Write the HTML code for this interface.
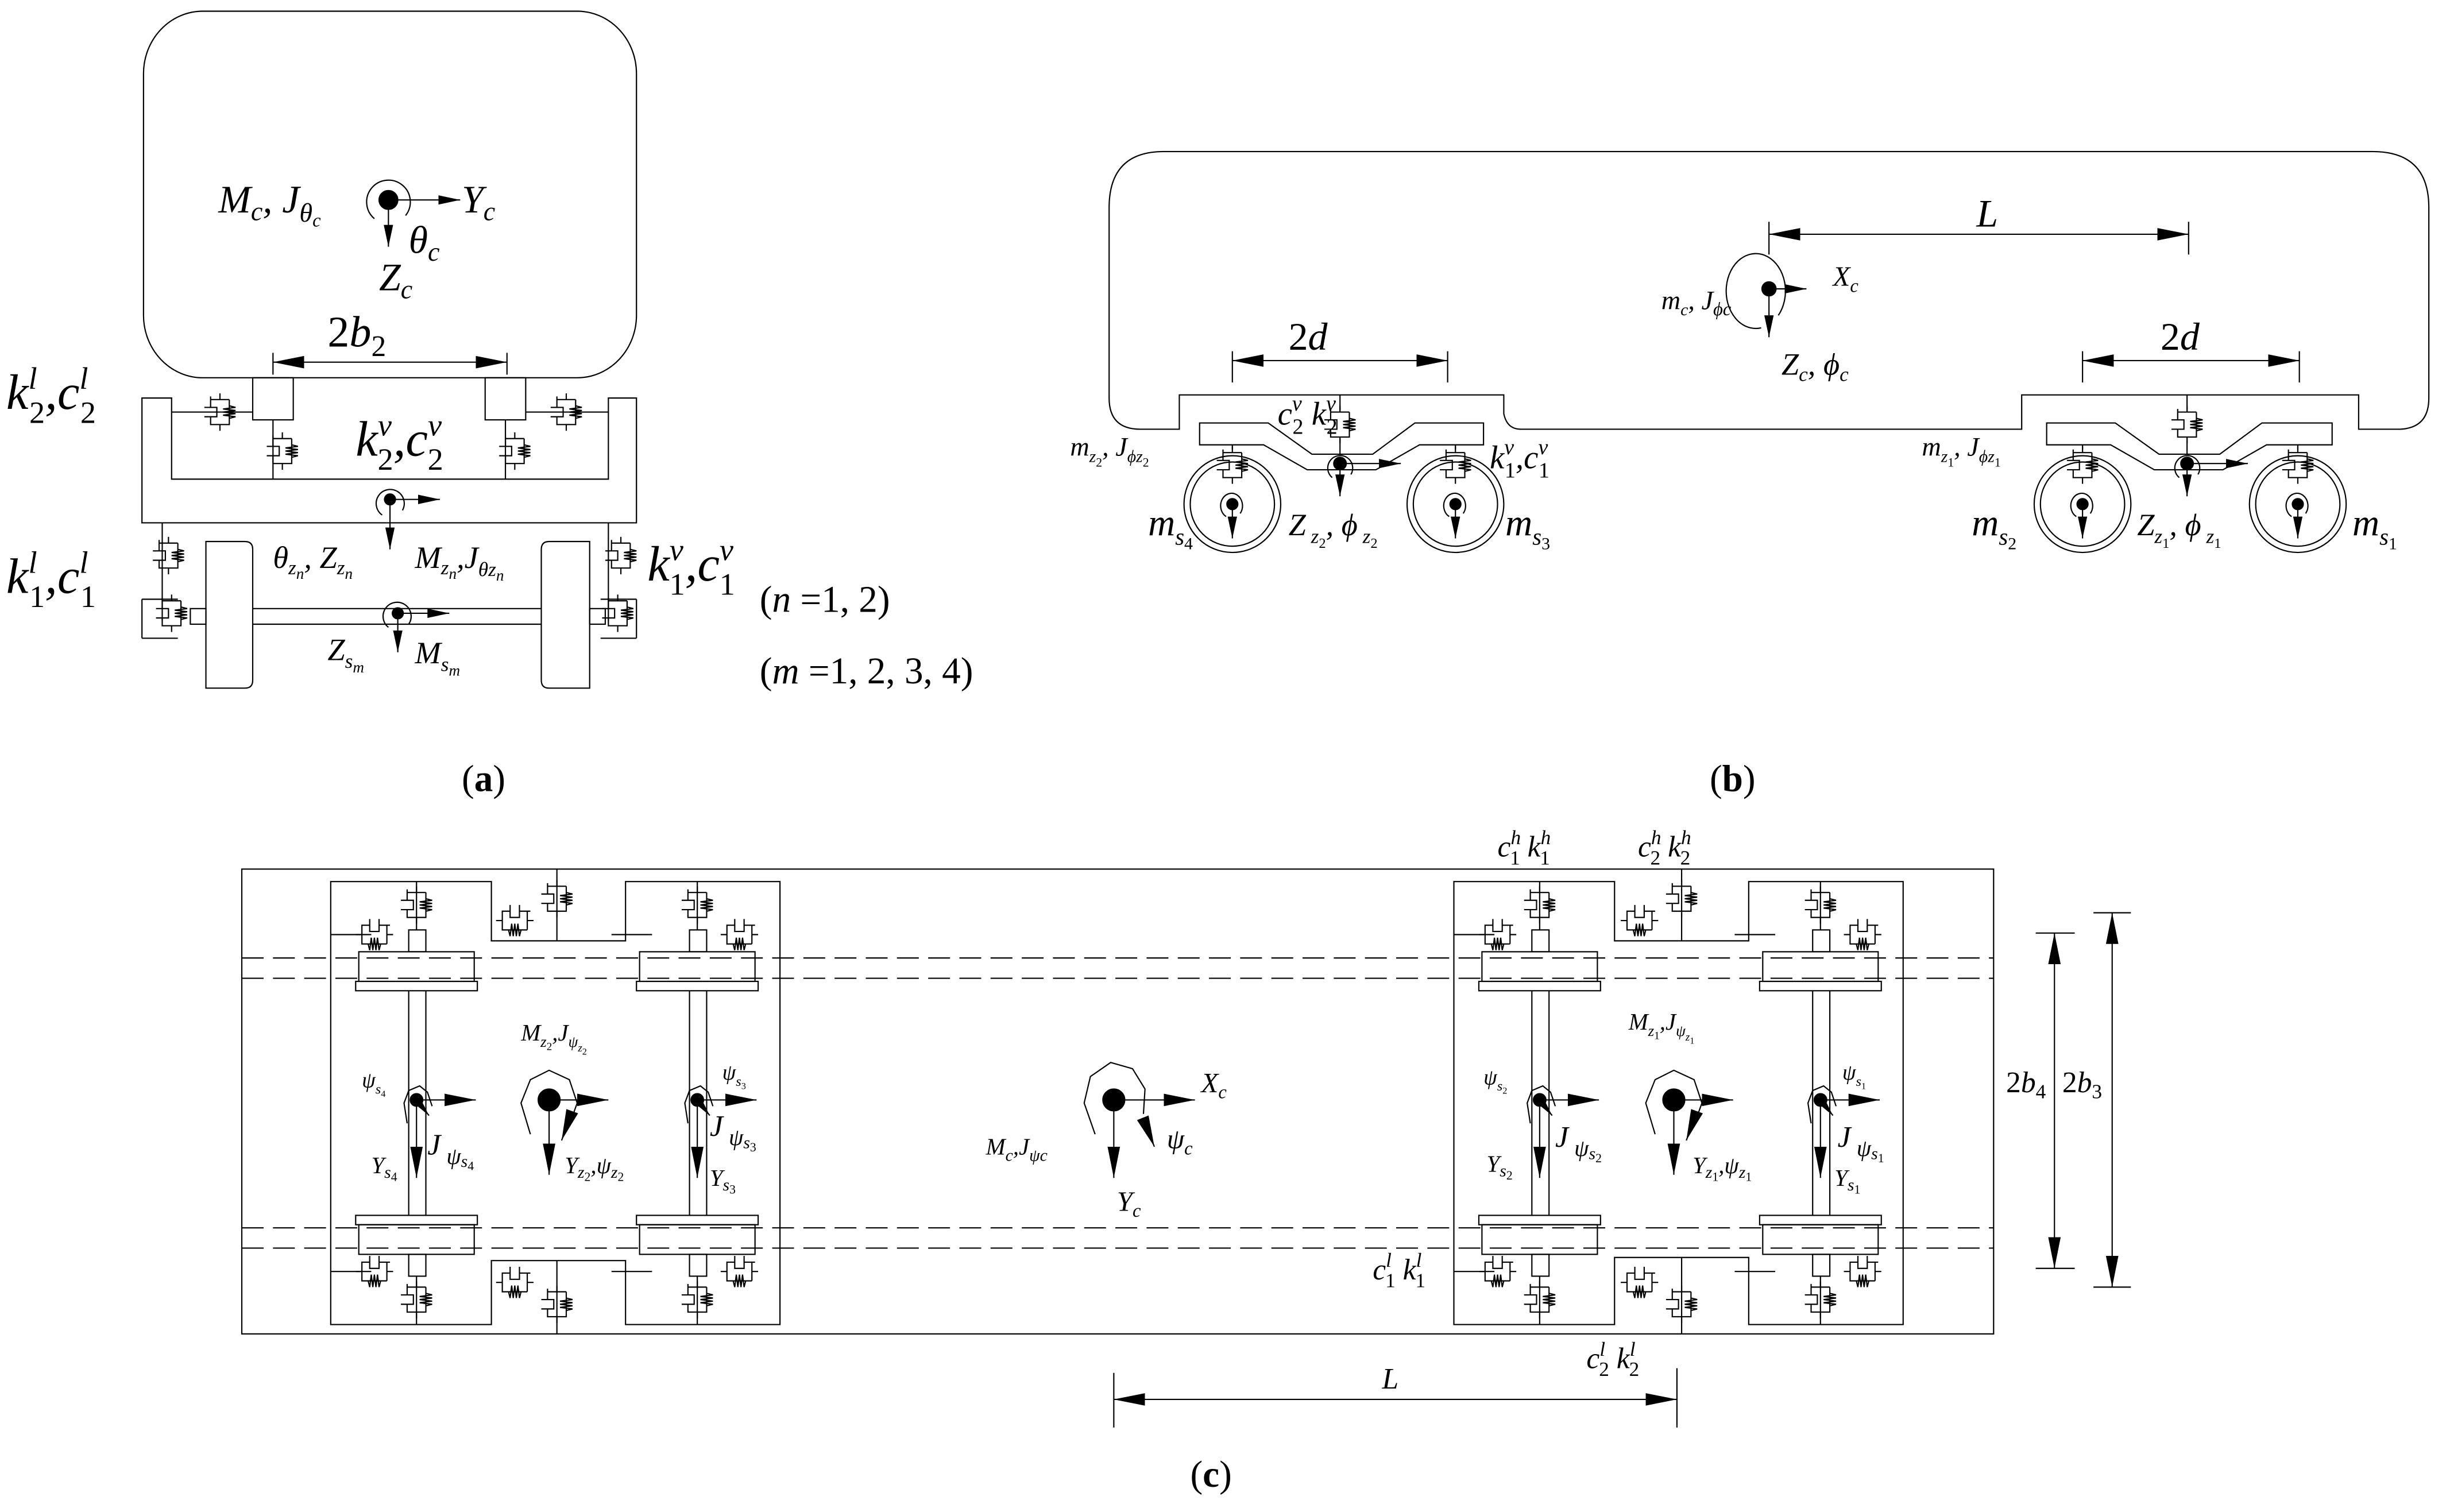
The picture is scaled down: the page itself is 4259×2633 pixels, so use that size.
<!DOCTYPE html>
<html><head><meta charset="utf-8"><style>
html,body{margin:0;padding:0;background:#fff;}
svg{display:block;}
text{font-family:"Liberation Serif",serif;font-style:italic;fill:#000;}
.n{font-style:normal;}
</style></head><body>
<svg width="4259" height="2633" viewBox="0 0 1568 969" xmlns="http://www.w3.org/2000/svg">
<defs>
<marker id="ah" viewBox="0 0 20 8" refX="20" refY="4" markerWidth="20" markerHeight="8" markerUnits="userSpaceOnUse" orient="auto"><path d="M0,0 L20,4 L0,8 Z" fill="#000"/></marker>
<marker id="ahs" viewBox="0 0 14 6" refX="14" refY="3" markerWidth="14" markerHeight="6" markerUnits="userSpaceOnUse" orient="auto"><path d="M0,0 L14,3 L0,6 Z" fill="#000"/></marker>
<marker id="ahb" viewBox="0 0 20 8" refX="0" refY="4" markerWidth="20" markerHeight="8" markerUnits="userSpaceOnUse" orient="auto"><path d="M20,0 L0,4 L20,8 Z" fill="#000"/></marker>
<g id="sd" fill="none" stroke="#000" stroke-width="0.8">
<path d="M-6,-8 H6 M-6,-8 V-3 M6,-8 V-4 M-10,-3 H-2 V3 H-10 M-6,-3 V-10 M6,-4 V4 M0,-8 V-12 M-6,3 V8 H6 V4 M0,8 V12"/>
<path d="M6,-4 L10,-3 L2,-2 L10,-1 L2,0 L10,1 L2,2 L10,3 L6,4"/>
</g>
<g id="wc" stroke="#000" stroke-width="0.8" fill="none"><circle cx="0" cy="0" r="3.5" fill="#000"/><path d="M-4,8 A7,8 0 1 1 5,6"/><line x1="0" y1="0" x2="0" y2="22" marker-end="url(#ahs)"/></g>
<g id="ws" stroke="#000" stroke-width="0.8" fill="none"><circle r="4" fill="#000"/><path d="M-6,15 L-8,2 L-5,-6 L2,-9 L7,-5 L10,4"/><line x1="0" y1="0" x2="38" y2="0" marker-end="url(#ah)"/><line x1="0" y1="0" x2="0" y2="50" marker-end="url(#ah)"/><line x1="0" y1="0" x2="8" y2="10" marker-end="url(#ahs)"/></g>
<g id="bc" stroke="#000" stroke-width="0.8" fill="none"><circle r="7" fill="#000"/><path d="M-12,22 L-18,2 L-12,-13 L0,-19 L13,-13 L18,2 L13,16"/><line x1="0" y1="0" x2="38" y2="0" marker-end="url(#ah)"/><line x1="0" y1="0" x2="0" y2="48" marker-end="url(#ah)"/><line x1="12" y1="15" x2="8" y2="26" marker-end="url(#ah)"/></g>
</defs>
<g fill="none" stroke="#000" stroke-width="0.8">
<!-- ===== (a) ===== -->
<rect x="92" y="7" width="316" height="235" rx="38" ry="40"/>
<rect x="162" y="242" width="26" height="27"/>
<rect x="311" y="242" width="26" height="27"/>
<path d="M91,255 H110 V307 H390 V255 H408 V335 H91 Z"/>
<path d="M110,264 H162 M337,264 H390 M175,269 V307 M324,269 V307"/>
<path d="M104,335 V398 M390,335 V398"/>
<path d="M132,347 H157 Q162,347 162,352 V436 Q162,441 157,441 H132 Z"/>
<path d="M378,347 H352 Q347,347 347,352 V436 Q347,441 352,441 H378 Z"/>
<path d="M162,390 H347 M162,400 H347"/>
<rect x="122" y="390" width="10" height="10"/><rect x="378" y="390" width="10" height="10"/>
<path d="M91,384 H114 M91,409 H114 M408,384 H385 M408,409 H385 M91,384 V409 M408,384 V409"/>
</g>
<use href="#sd" x="141" y="264"/><use href="#sd" x="363" y="264"/>
<use href="#sd" x="181" y="289"/><use href="#sd" x="330" y="289"/>
<use href="#sd" x="108" y="356"/><use href="#sd" x="398" y="356"/>
<use href="#sd" x="110" y="393"/><use href="#sd" x="396" y="393"/>
<g stroke="#000" stroke-width="0.8" fill="none">
<circle cx="249" cy="128" r="6" fill="#000"/>
<path d="M240,140 A14,14 0 1 1 260,138"/>
<line x1="249" y1="128" x2="295" y2="128" marker-end="url(#ahs)"/>
<line x1="249" y1="128" x2="249" y2="158" marker-end="url(#ahs)"/>
<line x1="175" y1="232" x2="325" y2="232" marker-end="url(#ah)" marker-start="url(#ahb)"/>
<line x1="175" y1="226" x2="175" y2="240"/><line x1="325" y1="226" x2="325" y2="240"/>
<circle cx="250" cy="320" r="3.5" fill="#000"/>
<path d="M245,330 A9,9 0 1 1 258,327"/>
<line x1="250" y1="320" x2="282" y2="320" marker-end="url(#ahs)"/>
<line x1="250" y1="320" x2="250" y2="352" marker-end="url(#ahs)"/>
<circle cx="255" cy="393" r="3.5" fill="#000"/>
<path d="M249,402 A9,9 0 1 1 262,400"/>
<line x1="255" y1="393" x2="288" y2="393" marker-end="url(#ahs)"/>
<line x1="255" y1="393" x2="255" y2="418" marker-end="url(#ahs)"/>
</g>
<text x="140" y="136" font-size="25">M<tspan font-size="17" dy="5">c</tspan><tspan dy="-5">, J</tspan><tspan font-size="17" dy="6">θ</tspan><tspan font-size="12" dy="3">c</tspan></text>
<text x="296" y="136" font-size="25">Y<tspan font-size="17" dy="5">c</tspan></text>
<text x="262" y="162" font-size="25">θ<tspan font-size="17" dy="5">c</tspan></text>
<text x="243" y="186" font-size="25">Z<tspan font-size="17" dy="5">c</tspan></text>
<text x="210" y="222" font-size="28" class="n">2<tspan font-style="italic">b</tspan><tspan dy="6" font-size="19">2</tspan></text>
<text x="4" y="262" font-size="32">k<tspan font-size="20" dy="-13">l</tspan><tspan font-size="20" dx="-5" dy="22" class="n">2</tspan><tspan dy="-9">,c</tspan><tspan font-size="20" dy="-13">l</tspan><tspan font-size="20" dx="-5" dy="22" class="n">2</tspan></text>
<text x="228" y="292" font-size="32">k<tspan font-size="20" dy="-13">v</tspan><tspan font-size="20" dx="-9" dy="22" class="n">2</tspan><tspan dy="-9">,c</tspan><tspan font-size="20" dy="-13">v</tspan><tspan font-size="20" dx="-9" dy="22" class="n">2</tspan></text>
<text x="4" y="380" font-size="32">k<tspan font-size="20" dy="-13">l</tspan><tspan font-size="20" dx="-5" dy="22" class="n">1</tspan><tspan dy="-9">,c</tspan><tspan font-size="20" dy="-13">l</tspan><tspan font-size="20" dx="-5" dy="22" class="n">1</tspan></text>
<text x="415" y="372" font-size="32">k<tspan font-size="20" dy="-13">v</tspan><tspan font-size="20" dx="-9" dy="22" class="n">1</tspan><tspan dy="-9">,c</tspan><tspan font-size="20" dy="-13">v</tspan><tspan font-size="20" dx="-9" dy="22" class="n">1</tspan></text>
<text x="175" y="364" font-size="20">θ<tspan font-size="13" dy="4">z</tspan><tspan font-size="10" dy="3">n</tspan><tspan dy="-7">, Z</tspan><tspan font-size="13" dy="4">z</tspan><tspan font-size="10" dy="3">n</tspan></text>
<text x="266" y="364" font-size="20">M<tspan font-size="13" dy="4">z</tspan><tspan font-size="10" dy="3">n</tspan><tspan dy="-7">,J</tspan><tspan font-size="13" dy="5">θz</tspan><tspan font-size="10" dy="3">n</tspan></text>
<text x="210" y="423" font-size="20">Z<tspan font-size="13" dy="5">s</tspan><tspan font-size="10" dy="3">m</tspan></text>
<text x="266" y="425" font-size="20">M<tspan font-size="13" dy="5">s</tspan><tspan font-size="10" dy="3">m</tspan></text>
<text x="487" y="392" font-size="24" class="n">(<tspan font-style="italic">n</tspan> =1, 2)</text>
<text x="487" y="438" font-size="24" class="n">(<tspan font-style="italic">m</tspan> =1, 2, 3, 4)</text>
<text x="296" y="507" font-size="24" class="n">(<tspan font-weight="bold">a</tspan>)</text>

<!-- ===== (b) ===== -->
<g fill="none" stroke="#000" stroke-width="0.8">
<path d="M746,97 H1521 Q1557,97 1557,133 V255 Q1557,275 1537,275 H1512 V253 H1296 V275 H975 Q966,275 964,265 V253 H756 V275 H731 Q711,275 711,255 V133 Q711,97 746,97 Z"/>
<path d="M769,271 H813 L841,291 H880 L907,271 H951 V285 H910 L882,301 H838 L810,285 H769 Z"/>
<path d="M1312,271 H1356 L1384,291 H1423 L1450,271 H1495 V285 H1453 L1425,301 H1381 L1353,285 H1312 Z"/>
<circle cx="790" cy="323" r="31"/><circle cx="790" cy="323" r="27"/>
<circle cx="933" cy="323" r="31"/><circle cx="933" cy="323" r="27"/>
<circle cx="1335" cy="323" r="31"/><circle cx="1335" cy="323" r="27"/>
<circle cx="1473" cy="323" r="31"/><circle cx="1473" cy="323" r="27"/>
<path d="M859,253 V263 M859,281 V291 M790,285 V288 M933,285 V288 M1335,285 V288 M1473,285 V288 M1402,253 V263 M1402,281 V291"/>
<line x1="790" y1="231" x2="928" y2="231" marker-end="url(#ah)" marker-start="url(#ahb)"/>
<path d="M790,225 V245 M928,225 V245"/>
<line x1="1335" y1="231" x2="1474" y2="231" marker-end="url(#ah)" marker-start="url(#ahb)"/>
<path d="M1335,225 V245 M1474,225 V245"/>
<line x1="1134" y1="150" x2="1403" y2="150" marker-end="url(#ah)" marker-start="url(#ahb)"/>
<path d="M1134,142 V163 M1403,142 V163"/>
<circle cx="1134" cy="185" r="4.5" fill="#000"/>
<path d="M1129,210 A19,24 0 1 1 1140,202"/>
<line x1="1134" y1="185" x2="1158" y2="185" marker-end="url(#ahs)"/>
<line x1="1134" y1="185" x2="1134" y2="216" marker-end="url(#ahs)"/>
</g>
<use href="#sd" x="859" y="272"/><use href="#sd" x="1402" y="272"/>
<use href="#sd" x="790" y="298"/><use href="#sd" x="933" y="298"/>
<use href="#sd" x="1335" y="298"/><use href="#sd" x="1473" y="298"/>
<use href="#wc" x="790" y="323"/><use href="#wc" x="933" y="323"/><use href="#wc" x="1335" y="323"/><use href="#wc" x="1473" y="323"/>
<g stroke="#000" stroke-width="0.8" fill="none">
<circle cx="859" cy="297" r="4" fill="#000"/><path d="M854,306 A8,8 0 1 1 866,304"/>
<line x1="859" y1="297" x2="898" y2="297" marker-end="url(#ahs)"/><line x1="859" y1="297" x2="859" y2="318" marker-end="url(#ahs)"/>
<circle cx="1402" cy="297" r="4" fill="#000"/><path d="M1397,306 A8,8 0 1 1 1409,304"/>
<line x1="1402" y1="297" x2="1441" y2="297" marker-end="url(#ahs)"/><line x1="1402" y1="297" x2="1402" y2="318" marker-end="url(#ahs)"/>
</g>
<text x="1267" y="145" font-size="25">L</text>
<text x="1065" y="198" font-size="17">m<tspan font-size="11" dy="4">c</tspan><tspan dy="-4">, J</tspan><tspan font-size="12" dy="4">ϕc</tspan></text>
<text x="1175" y="183" font-size="18">X<tspan font-size="12" dy="4">c</tspan></text>
<text x="1142" y="240" font-size="20">Z<tspan font-size="13" dy="4">c</tspan><tspan dy="-4">, ϕ</tspan><tspan font-size="13" dy="4">c</tspan></text>
<text x="826" y="224" font-size="25" class="n">2<tspan font-style="italic">d</tspan></text>
<text x="1385" y="224" font-size="25" class="n">2<tspan font-style="italic">d</tspan></text>
<text x="819" y="272" font-size="21">c<tspan font-size="14" dy="-9">v</tspan><tspan font-size="14" dx="-6" dy="15" class="n">2</tspan><tspan dy="-6"> k</tspan><tspan font-size="14" dy="-9">v</tspan><tspan font-size="14" dx="-6" dy="15" class="n">2</tspan></text>
<text x="686" y="292" font-size="17">m<tspan font-size="11" dy="4">z</tspan><tspan font-size="8" dy="3" class="n">2</tspan><tspan dy="-7">, J</tspan><tspan font-size="11" dy="4">ϕz</tspan><tspan font-size="8" dy="3" class="n">2</tspan></text>
<text x="955" y="300" font-size="21">k<tspan font-size="14" dy="-9">v</tspan><tspan font-size="14" dx="-6" dy="15" class="n">1</tspan><tspan dy="-6">,c</tspan><tspan font-size="14" dy="-9">v</tspan><tspan font-size="14" dx="-6" dy="15" class="n">1</tspan></text>
<text x="736" y="343" font-size="24">m<tspan font-size="15" dy="6">s</tspan><tspan font-size="11" dy="3" class="n">4</tspan></text>
<text x="826" y="343" font-size="20">Z<tspan font-size="13" dy="5"> z</tspan><tspan font-size="9" dy="3" class="n">2</tspan><tspan dy="-8">, ϕ</tspan><tspan font-size="13" dy="5"> z</tspan><tspan font-size="9" dy="3" class="n">2</tspan></text>
<text x="965" y="343" font-size="24">m<tspan font-size="15" dy="6">s</tspan><tspan font-size="11" dy="3" class="n">3</tspan></text>
<text x="1232" y="292" font-size="17">m<tspan font-size="11" dy="4">z</tspan><tspan font-size="8" dy="3" class="n">1</tspan><tspan dy="-7">, J</tspan><tspan font-size="11" dy="4">ϕz</tspan><tspan font-size="8" dy="3" class="n">1</tspan></text>
<text x="1264" y="343" font-size="24">m<tspan font-size="15" dy="6">s</tspan><tspan font-size="11" dy="3" class="n">2</tspan></text>
<text x="1370" y="343" font-size="20">Z<tspan font-size="13" dy="5">z</tspan><tspan font-size="9" dy="3" class="n">1</tspan><tspan dy="-8">, ϕ</tspan><tspan font-size="13" dy="5"> z</tspan><tspan font-size="9" dy="3" class="n">1</tspan></text>
<text x="1508" y="343" font-size="24">m<tspan font-size="15" dy="6">s</tspan><tspan font-size="11" dy="3" class="n">1</tspan></text>
<text x="1096" y="507" font-size="24" class="n">(<tspan font-weight="bold">b</tspan>)</text>

<!-- ===== (c) ===== -->
<g fill="none" stroke="#000" stroke-width="0.8">
<rect x="155" y="557" width="1123" height="298"/>
<g stroke-dasharray="14,6">
<line x1="155" y1="614" x2="1278" y2="614"/><line x1="155" y1="627" x2="1278" y2="627"/>
<line x1="155" y1="787" x2="1278" y2="787"/><line x1="155" y1="800" x2="1278" y2="800"/>
</g>
<path d="M212,565 H315 V603 H401 V565 H500 V849 H401 V808 H315 V849 H212 Z"/>
<path d="M932,565 H1035 V603 H1121 V565 H1220 V849 H1121 V806 H1035 V849 H932 Z"/>
<path d="M357,557 V603 M357,808 V855 M1078,557 V603 M1078,806 V855"/>
</g>
<g id="bog" fill="none" stroke="#000" stroke-width="0.8">
<rect x="230" y="610" width="74" height="19"/><rect x="228" y="629" width="78" height="6"/>
<rect x="230" y="785" width="74" height="19"/><rect x="228" y="779" width="78" height="6"/>
<rect x="262" y="596" width="11" height="14"/><rect x="262" y="804" width="11" height="14"/>
<path d="M262,635 V779 M273,635 V779 M267,565 V596 M267,818 V849 M212,599 H238 M212,815 H238"/>
</g>
<use href="#bog" x="180"/><use href="#bog" x="720"/><use href="#bog" x="900"/>
<g>
<use href="#sd" x="267" y="580"/><use href="#sd" x="447" y="580"/><use href="#sd" x="987" y="580"/><use href="#sd" x="1167" y="580"/>
<use href="#sd" x="267" y="833"/><use href="#sd" x="447" y="833"/><use href="#sd" x="987" y="833"/><use href="#sd" x="1167" y="833"/>
<use href="#sd" x="240" y="599" transform="rotate(90 240 599)"/><use href="#sd" x="474" y="599" transform="rotate(90 474 599)"/>
<use href="#sd" x="960" y="599" transform="rotate(90 960 599)"/><use href="#sd" x="1194" y="599" transform="rotate(90 1194 599)"/>
<use href="#sd" x="240" y="815" transform="rotate(90 240 815)"/><use href="#sd" x="474" y="815" transform="rotate(90 474 815)"/>
<use href="#sd" x="960" y="815" transform="rotate(90 960 815)"/><use href="#sd" x="1194" y="815" transform="rotate(90 1194 815)"/>
<use href="#sd" x="330" y="590" transform="rotate(90 330 590)"/><use href="#sd" x="357" y="576"/>
<use href="#sd" x="330" y="822" transform="rotate(90 330 822)"/><use href="#sd" x="357" y="836"/>
<use href="#sd" x="1051" y="590" transform="rotate(90 1051 590)"/><use href="#sd" x="1078" y="576"/>
<use href="#sd" x="1051" y="822" transform="rotate(90 1051 822)"/><use href="#sd" x="1078" y="836"/>
</g>
<use href="#ws" x="267" y="705"/><use href="#ws" x="447" y="705"/><use href="#ws" x="987" y="705"/><use href="#ws" x="1167" y="705"/>
<use href="#bc" x="352" y="705"/><use href="#bc" x="1073" y="705"/>
<g stroke="#000" stroke-width="0.8" fill="none">
<circle cx="714" cy="705" r="7" fill="#000"/>
<path d="M702,727 L695,707 L699,690 L712,681 L726,685 L734,698 L733,714"/>
<line x1="714" y1="705" x2="766" y2="705" marker-end="url(#ah)"/>
<line x1="714" y1="705" x2="714" y2="755" marker-end="url(#ah)"/>
<line x1="734" y1="720" x2="740" y2="735" marker-end="url(#ah)"/>
<line x1="714" y1="897" x2="1075" y2="897" marker-end="url(#ah)" marker-start="url(#ahb)"/>
<path d="M714,880 V915 M1075,877 V915"/>
<line x1="1317" y1="598" x2="1317" y2="813" marker-end="url(#ah)" marker-start="url(#ahb)"/>
<path d="M1305,598 H1330 M1305,813 H1330"/>
<line x1="1354" y1="585" x2="1354" y2="825" marker-end="url(#ah)" marker-start="url(#ahb)"/>
<path d="M1342,585 H1366 M1342,825 H1366"/>
</g>
<g font-size="15">
<text x="334" y="667">M<tspan font-size="10" dy="4">z</tspan><tspan font-size="7" dy="2" class="n">2</tspan><tspan dy="-6">,J</tspan><tspan font-size="10" dy="4">ψ</tspan><tspan font-size="7" dy="3">z</tspan><tspan font-size="6" dy="2" class="n">2</tspan></text>
<text x="1044" y="660">M<tspan font-size="10" dy="4">z</tspan><tspan font-size="7" dy="2" class="n">1</tspan><tspan dy="-6">,J</tspan><tspan font-size="10" dy="4">ψ</tspan><tspan font-size="7" dy="3">z</tspan><tspan font-size="6" dy="2" class="n">1</tspan></text>
<text x="232" y="697" font-size="14">ψ<tspan font-size="9" dy="4">s</tspan><tspan font-size="6" dy="2" class="n">4</tspan></text>
<text x="463" y="692" font-size="14">ψ<tspan font-size="9" dy="4">s</tspan><tspan font-size="6" dy="2" class="n">3</tspan></text>
<text x="951" y="695" font-size="14">ψ<tspan font-size="9" dy="4">s</tspan><tspan font-size="6" dy="2" class="n">2</tspan></text>
<text x="1181" y="692" font-size="14">ψ<tspan font-size="9" dy="4">s</tspan><tspan font-size="6" dy="2" class="n">1</tspan></text>
<text x="274" y="740" font-size="19">J<tspan font-size="15" dy="6"> ψ</tspan><tspan font-size="11" dy="2">s</tspan><tspan font-size="8" dy="2" class="n">4</tspan></text>
<text x="455" y="728" font-size="19">J<tspan font-size="15" dy="6"> ψ</tspan><tspan font-size="11" dy="2">s</tspan><tspan font-size="8" dy="2" class="n">3</tspan></text>
<text x="997" y="735" font-size="19">J<tspan font-size="15" dy="6"> ψ</tspan><tspan font-size="11" dy="2">s</tspan><tspan font-size="8" dy="2" class="n">2</tspan></text>
<text x="1178" y="735" font-size="19">J<tspan font-size="15" dy="6"> ψ</tspan><tspan font-size="11" dy="2">s</tspan><tspan font-size="8" dy="2" class="n">1</tspan></text>
<text x="238" y="752">Y<tspan font-size="11" dy="3">s</tspan><tspan font-size="8" dy="2" class="n">4</tspan></text>
<text x="362" y="752">Y<tspan font-size="11" dy="3">z</tspan><tspan font-size="8" dy="2" class="n">2</tspan><tspan dy="-5">,ψ</tspan><tspan font-size="11" dy="3">z</tspan><tspan font-size="8" dy="2" class="n">2</tspan></text>
<text x="455" y="760">Y<tspan font-size="11" dy="3">s</tspan><tspan font-size="8" dy="2" class="n">3</tspan></text>
<text x="953" y="751">Y<tspan font-size="11" dy="3">s</tspan><tspan font-size="8" dy="2" class="n">2</tspan></text>
<text x="1085" y="752">Y<tspan font-size="11" dy="3">z</tspan><tspan font-size="8" dy="2" class="n">1</tspan><tspan dy="-5">,ψ</tspan><tspan font-size="11" dy="3">z</tspan><tspan font-size="8" dy="2" class="n">1</tspan></text>
<text x="1176" y="760">Y<tspan font-size="11" dy="3">s</tspan><tspan font-size="8" dy="2" class="n">1</tspan></text>
<text x="632" y="740">M<tspan font-size="11" dy="4">c</tspan><tspan dy="-4">,J</tspan><tspan font-size="11" dy="4">ψc</tspan></text>
<text x="748" y="736" font-size="18">ψ<tspan font-size="12" dy="4">c</tspan></text>
<text x="770" y="700" font-size="18">X<tspan font-size="12" dy="4">c</tspan></text>
<text x="716" y="776" font-size="18">Y<tspan font-size="12" dy="4">c</tspan></text>
<text x="886" y="890" font-size="19">L</text>
<text x="960" y="549" font-size="19">c<tspan font-size="13" dy="-8">h</tspan><tspan font-size="13" dx="-7" dy="13" class="n">1</tspan><tspan dy="-5"> k</tspan><tspan font-size="13" dy="-8">h</tspan><tspan font-size="13" dx="-7" dy="13" class="n">1</tspan></text>
<text x="1050" y="549" font-size="19">c<tspan font-size="13" dy="-8">h</tspan><tspan font-size="13" dx="-7" dy="13" class="n">2</tspan><tspan dy="-5"> k</tspan><tspan font-size="13" dy="-8">h</tspan><tspan font-size="13" dx="-7" dy="13" class="n">2</tspan></text>
<text x="880" y="820" font-size="19">c<tspan font-size="13" dy="-8">l</tspan><tspan font-size="13" dx="-4" dy="13" class="n">1</tspan><tspan dy="-5"> k</tspan><tspan font-size="13" dy="-8">l</tspan><tspan font-size="13" dx="-4" dy="13" class="n">1</tspan></text>
<text x="1017" y="877" font-size="19">c<tspan font-size="13" dy="-8">l</tspan><tspan font-size="13" dx="-4" dy="13" class="n">2</tspan><tspan dy="-5"> k</tspan><tspan font-size="13" dy="-8">l</tspan><tspan font-size="13" dx="-4" dy="13" class="n">2</tspan></text>
<text x="1286" y="700" font-size="19" class="n">2<tspan font-style="italic">b</tspan><tspan font-size="13" dy="4">4</tspan></text>
<text x="1322" y="700" font-size="19" class="n">2<tspan font-style="italic">b</tspan><tspan font-size="13" dy="4">3</tspan></text>
</g>
<text x="763" y="953" font-size="24" class="n">(<tspan font-weight="bold">c</tspan>)</text>
</svg>
</body></html>
